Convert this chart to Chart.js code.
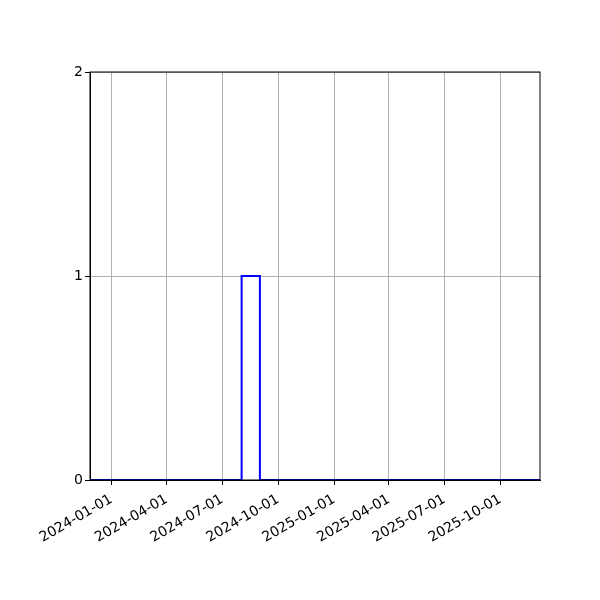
<!DOCTYPE html>
<html>
<head>
<meta charset="utf-8">
<script src="https://cdn.jsdelivr.net/npm/chart.js@4/dist/chart.umd.min.js"></script>
<style>
  html, body { margin: 0; padding: 0; background: #fff; }
  #wrap { width: 600px; height: 600px; }
</style>
</head>
<body>
<div id="wrap"><canvas id="stepChart"></canvas></div>
<script>
// data
var dates    = ['2023-11-27', '2024-08-02', '2024-09-01', '2025-12-05']
var counts   = [0, 1, 0, 0]
var xTicks   = ['2024-01-01', '2024-04-01', '2024-07-01', '2024-10-01',
                '2025-01-01', '2025-04-01', '2025-07-01', '2025-10-01']
var yTicks   = [0, 1, 2]
var xMin = '2023-11-27', xMax = '2025-12-05'

function toMs(d) { return Date.parse(d + 'T00:00:00Z') }
function fmt(ms) { return new Date(ms).toISOString().slice(0, 10) }

var points = dates.map(function (d, i) { return { x: toMs(d), y: counts[i] } })

// matplotlib draws a full box round the axes
var boxPlugin = {
  id: 'box',
  afterDraw: function (chart) {
    var a = chart.chartArea, ctx = chart.ctx
    ctx.save()
    ctx.strokeStyle = '#000'
    ctx.lineWidth = 1
    ctx.strokeRect(a.left, a.top, a.right - a.left, a.bottom - a.top)
    ctx.restore()
  }
}

var font = { family: 'DejaVu Sans', size: 14 }

new Chart(document.getElementById('stepChart').getContext('2d'), {
  type: 'line',
  data: {
    datasets: [{
      data: points,
      stepped: 'before',
      borderColor: '#0000ff',
      borderWidth: 2,
      pointRadius: 0,
      fill: false
    }]
  },
  options: {
    responsive: true,
    maintainAspectRatio: false,
    animation: false,
    layout: { padding: { top: 72, right: 60, left: 0, bottom: 0 } },
    plugins: { legend: { display: false }, tooltip: { enabled: false } },
    scales: {
      x: {
        type: 'linear',
        min: toMs(xMin),
        max: toMs(xMax),
        afterBuildTicks: function (scale) {
          scale.ticks = xTicks.map(function (d) { return { value: toMs(d) } })
        },
        afterFit: function (scale) { scale.height = 120 },
        ticks: {
          color: '#000',
          font: font,
          minRotation: 30,
          maxRotation: 30,
          autoSkip: false,
          padding: 6,
          callback: function (v) { return fmt(v) }
        },
        grid: { color: '#b0b0b0', lineWidth: 1, tickColor: '#000', tickLength: 5 },
        border: { color: '#000', width: 1 }
      },
      y: {
        min: 0,
        max: 2,
        afterBuildTicks: function (scale) {
          scale.ticks = yTicks.map(function (v) { return { value: v } })
        },
        afterFit: function (scale) { scale.width = 90 },
        ticks: { color: '#000', font: font, padding: 2 },
        grid: { color: '#b0b0b0', lineWidth: 1, tickColor: '#000', tickLength: 5 },
        border: { color: '#000', width: 1 }
      }
    }
  },
  plugins: [boxPlugin]
})
</script>
</body>
</html>
